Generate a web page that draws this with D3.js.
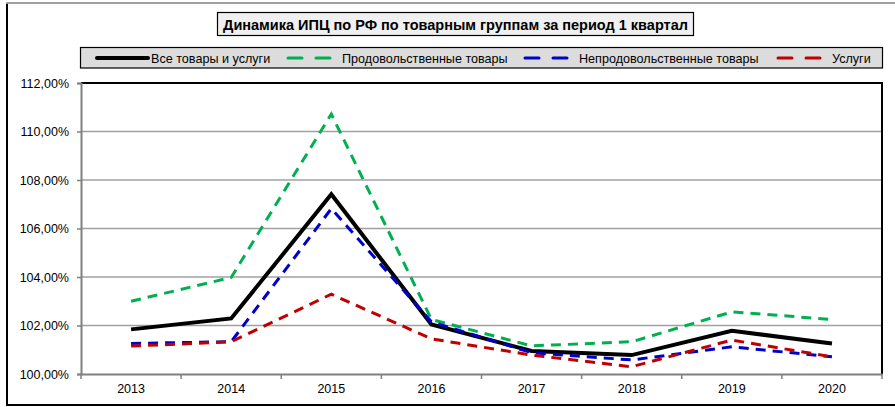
<!DOCTYPE html>
<html>
<head>
<meta charset="utf-8">
<script src="https://cdn.jsdelivr.net/npm/d3@7"></script>
<style>
  body { margin: 0; background: #fff; }
  svg { display: block; font-family: Arial, "Liberation Sans", sans-serif; }
</style>
</head>
<body>
<svg width="895" height="407"></svg>
<script>
const years = ['2013', '2014', '2015', '2016', '2017', '2018', '2019', '2020'];
const allGoods = [101.84, 102.29, 107.41, 102.04, 100.95, 100.78, 101.78, 101.26];
const foodGoods = [103.0, 103.98, 110.72, 102.25, 101.16, 101.33, 102.56, 102.25];
const nonFoodGoods = [101.26, 101.33, 106.82, 102.15, 100.88, 100.58, 101.12, 100.71];
const services = [101.15, 101.33, 103.29, 101.45, 100.78, 100.3, 101.4, 100.71];
const yTicks = [100, 102, 104, 106, 108, 110, 112];

const seriesList = [
  { name: 'Все товары и услуги', values: allGoods, color: '#000000', dash: null, width: 4 },
  { name: 'Продовольственные товары', values: foodGoods, color: '#00b050', dash: '10,7', width: 3 },
  { name: 'Непродовольственные товары', values: nonFoodGoods, color: '#0000cc', dash: '10,7', width: 3 },
  { name: 'Услуги', values: services, color: '#c00000', dash: '10,7', width: 3 }
];

let svg = d3.select('svg');

// outer chart frame
svg.append('path')
  .attr('d', 'M7,404 L7,3 L895,3')
  .attr('fill', 'none')
  .attr('stroke', '#808080')
  .attr('stroke-width', 1.5);
svg.append('line')
  .attr('x1', 7).attr('y1', 4).attr('x2', 7).attr('y2', 405)
  .attr('stroke', '#000').attr('stroke-width', 2);
svg.append('line')
  .attr('x1', 6).attr('y1', 405).attr('x2', 895).attr('y2', 405)
  .attr('stroke', '#000').attr('stroke-width', 2);

const plotLeft = 81, plotRight = 882, plotTop = 83, plotBottom = 374;

let x = d3.scaleBand().domain(years).range([plotLeft, plotRight]);
let y = d3.scaleLinear().domain([100, 112]).range([plotBottom, plotTop]);

// gridlines
svg.append('g')
  .selectAll('line')
  .data(yTicks.slice(1, -1))
  .enter()
  .append('line')
  .attr('x1', plotLeft).attr('x2', plotRight)
  .attr('y1', d => y(d)).attr('y2', d => y(d))
  .attr('stroke', '#a0a0a0')
  .attr('stroke-width', 1.5);

// plot border top & right
svg.append('path')
  .attr('d', `M${plotLeft},${plotTop} L${plotRight},${plotTop} L${plotRight},${plotBottom}`)
  .attr('fill', 'none')
  .attr('stroke', '#000')
  .attr('stroke-width', 2);

// y axis
let yAxis = svg.append('g')
  .attr('transform', `translate(${plotLeft},0)`)
  .call(d3.axisLeft(y).tickValues(yTicks).tickSize(4).tickPadding(8)
    .tickFormat(d => d3.format('.2f')(d).replace('.', ',') + '%'));
yAxis.select('.domain').attr('stroke', '#808080').attr('stroke-width', 2);
yAxis.selectAll('.tick line').attr('stroke', '#808080').attr('stroke-width', 1.5);
yAxis.selectAll('text').attr('font-size', 12.5).attr('fill', '#000')
  .attr('font-family', 'Arial, "Liberation Sans", sans-serif');

// x axis
let xAxis = svg.append('g')
  .attr('transform', `translate(0,${plotBottom})`)
  .call(d3.axisBottom(x).tickSize(0).tickPadding(10));
xAxis.select('.domain').attr('stroke', '#808080').attr('stroke-width', 2);
xAxis.selectAll('text').attr('font-size', 12.5).attr('fill', '#000')
  .attr('font-family', 'Arial, "Liberation Sans", sans-serif');
xAxis.selectAll('line.sep')
  .data(d3.range(years.length + 1))
  .enter()
  .append('line')
  .attr('class', 'sep')
  .attr('x1', i => plotLeft + i * x.step()).attr('x2', i => plotLeft + i * x.step())
  .attr('y1', 0).attr('y2', 5)
  .attr('stroke', '#808080').attr('stroke-width', 1.5);

// lines
let line = d3.line()
  .x((d, i) => x(years[i]) + x.bandwidth() / 2)
  .y(d => y(d));

svg.append('g')
  .selectAll('path')
  .data(seriesList)
  .enter()
  .append('path')
  .attr('d', s => line(s.values))
  .attr('fill', 'none')
  .attr('stroke', s => s.color)
  .attr('stroke-width', s => s.width)
  .attr('stroke-dasharray', s => s.dash)
  .attr('stroke-linejoin', 'miter');

// title
svg.append('rect')
  .attr('x', 217.5).attr('y', 12.5).attr('width', 476).attr('height', 23)
  .attr('fill', '#f0f0f0').attr('stroke', '#000').attr('stroke-width', 1.2);
svg.append('text')
  .attr('x', 455.5).attr('y', 29.5)
  .attr('text-anchor', 'middle')
  .attr('font-size', 14.5)
  .attr('font-weight', 'bold')
  .text('Динамика ИПЦ по РФ по товарным группам за период 1 квартал');

// legend
svg.append('rect')
  .attr('x', 80.5).attr('y', 47.5).attr('width', 802).attr('height', 20.5)
  .attr('fill', '#dcdcdc').attr('stroke', '#000').attr('stroke-width', 1.2);
const legendX = [97, 288, 525, 778];
let items = svg.append('g')
  .selectAll('g')
  .data(seriesList)
  .enter()
  .append('g')
  .attr('transform', (d, i) => `translate(${legendX[i]},58)`);
items.append('line')
  .attr('x1', 0).attr('x2', (d, i) => i === 0 ? 51 : 42)
  .attr('y1', 0).attr('y2', 0)
  .attr('stroke', d => d.color)
  .attr('stroke-width', d => d.width)
  .attr('stroke-linecap', 'round')
  .attr('stroke-dasharray', d => d.dash ? '14,14' : null);
items.append('text')
  .attr('x', 54)
  .attr('y', 4.5)
  .attr('font-size', 12.6)
  .text(d => d.name);
</script>
</body>
</html>
